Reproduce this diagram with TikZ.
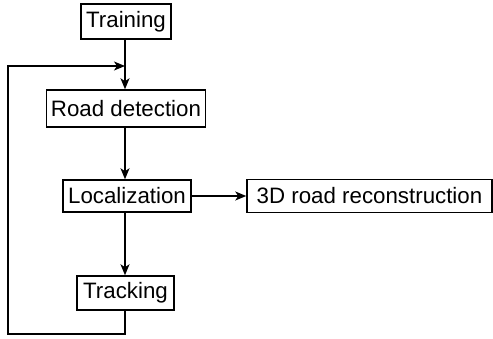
\documentclass[tikz,border=0pt]{standalone}
\usepackage{fontspec}
\setmainfont{Liberation Sans}
\usetikzlibrary{arrows.meta}
\begin{document}
\begin{tikzpicture}[x=1pt,y=1pt,
  box/.style={draw, line width=1.5pt, inner sep=0pt, anchor=center,
    font=\fontsize{22.3}{26}\selectfont},
  conn/.style={line width=1.5pt, -{Stealth[length=11pt,width=9pt,inset=3pt]}}]
\useasboundingbox (0,0) rectangle (493,-338);
\node[box, minimum width=90pt, minimum height=35pt] (train) at (126,-21.5) {Training};
\node[box, minimum width=159pt, minimum height=37pt] (road) at (126,-108.5) {Road detection};
\node[box, minimum width=128pt, minimum height=32pt] (loc) at (127,-196) {Localization};
\node[box, minimum width=245pt, minimum height=33pt] (rec) at (369.5,-196) {3D road reconstruction};
\node[box, minimum width=97pt, minimum height=34pt] (track) at (125.5,-293) {Tracking};
\coordinate (fb) at (125,-66);
\coordinate (bl) at (8,-334);
\draw[conn] (train.south -| fb) -- (road.north -| fb);
\draw[conn] (road.south -| fb) -- (loc.north -| fb);
\draw[conn] (loc.east) -- (rec.west);
\draw[conn] (loc.south -| fb) -- (track.north -| fb);
\draw[conn] (track.south -| fb) |- (bl) |- (fb);
\end{tikzpicture}
\end{document}
